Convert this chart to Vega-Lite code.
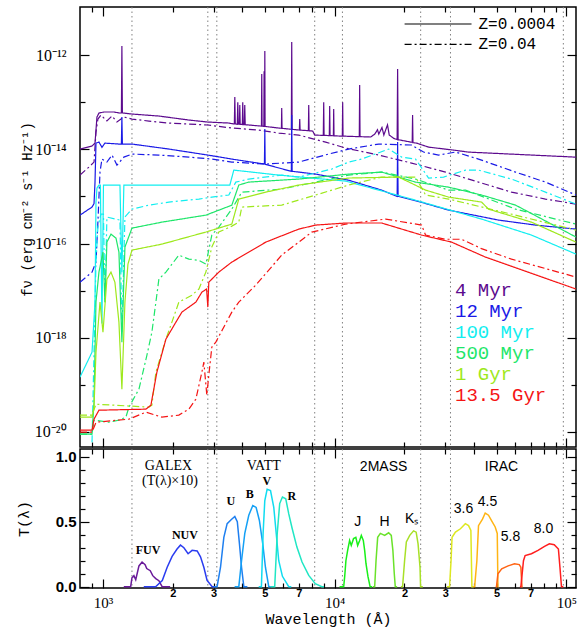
{
  "$schema": "https://vega.github.io/schema/vega-lite/v6.json",
  "padding": {"left": 15, "top": 5, "right": 5, "bottom": 5},
  "spacing": -9,
  "config": {
    "view": {"stroke": "black", "strokeWidth": 1.5},
    "axis": {"domain": false, "grid": false, "tickColor": "black", "tickWidth": 1.2, "labelColor": "black", "titleColor": "black", "labelOverlap": false, "labelFlush": false, "labelBound": false}
  },
  "resolve": {"scale": {"color": "independent", "strokeDash": "independent"}},
  "datasets": {
    "dots": [{"w": 1334}, {"w": 2835}, {"w": 3100}, {"w": 8200}, {"w": 10800}, {"w": 23500}, {"w": 31600}, {"w": 97000}],
    "ages": [
      {"a": "4 Myr", "w": 33050, "f": 1.03e-17},
      {"a": "12 Myr", "w": 33050, "f": 3.67e-18},
      {"a": "100 Myr", "w": 33050, "f": 1.31e-18},
      {"a": "500 Myr", "w": 33050, "f": 4.71e-19},
      {"a": "1 Gyr", "w": 33050, "f": 1.69e-19},
      {"a": "13.5 Gyr", "w": 33050, "f": 6.04e-20}
    ],
    "zleg": [
      {"z": "Z=0.0004", "w1": 20030, "w2": 38950, "wt": 41750, "f": 4.55e-12},
      {"z": "Z=0.04", "w1": 20030, "w2": 38950, "wt": 41750, "f": 1.68e-12}
    ],
    "fn": [
      {"t": "FUV", "w": 1564, "v": 0.285},
      {"t": "NUV", "w": 2257, "v": 0.40},
      {"t": "U", "w": 3563, "v": 0.66},
      {"t": "B", "w": 4302, "v": 0.71},
      {"t": "V", "w": 5092, "v": 0.815},
      {"t": "R", "w": 6526, "v": 0.70}
    ],
    "grp": [
      {"t": "GALEX", "w": 1917, "v": 0.93},
      {"t": "(T(\u03bb)\u00d710)", "w": 1946, "v": 0.815},
      {"t": "VATT", "w": 4943, "v": 0.93}
    ],
    "sans": [
      {"t": "2MASS", "w": 16260, "v": 0.923},
      {"t": "IRAC", "w": 52470, "v": 0.923},
      {"t": "J", "w": 12564, "v": 0.50},
      {"t": "H", "w": 16428, "v": 0.50},
      {"t": "K\u209b", "w": 21471, "v": 0.523},
      {"t": "3.6", "w": 35970, "v": 0.60},
      {"t": "4.5", "w": 45650, "v": 0.654},
      {"t": "5.8", "w": 57370, "v": 0.385},
      {"t": "8.0", "w": 79600, "v": 0.446}
    ],
    "filt": [
      {"b": "FUV", "w": 1230, "t": 0}, {"b": "FUV", "w": 1317, "t": 0}, {"b": "FUV", "w": 1334, "t": 0.069}, {"b": "FUV", "w": 1360, "t": 0.085}, {"b": "FUV", "w": 1385, "t": 0.054}, {"b": "FUV", "w": 1430, "t": 0.16}, {"b": "FUV", "w": 1475, "t": 0.19}, {"b": "FUV", "w": 1520, "t": 0.17}, {"b": "FUV", "w": 1545, "t": 0.14}, {"b": "FUV", "w": 1600, "t": 0.123}, {"b": "FUV", "w": 1640, "t": 0.085}, {"b": "FUV", "w": 1690, "t": 0.062}, {"b": "FUV", "w": 1743, "t": 0.046}, {"b": "FUV", "w": 1790, "t": 0.008}, {"b": "FUV", "w": 1800, "t": 0}, {"b": "FUV", "w": 1950, "t": 0},
      {"b": "NUV", "w": 1500, "t": 0}, {"b": "NUV", "w": 1687, "t": 0}, {"b": "NUV", "w": 1803, "t": 0.048}, {"b": "NUV", "w": 1893, "t": 0.15}, {"b": "NUV", "w": 1988, "t": 0.233}, {"b": "NUV", "w": 2088, "t": 0.29}, {"b": "NUV", "w": 2160, "t": 0.32}, {"b": "NUV", "w": 2235, "t": 0.30}, {"b": "NUV", "w": 2330, "t": 0.254}, {"b": "NUV", "w": 2425, "t": 0.28}, {"b": "NUV", "w": 2550, "t": 0.275}, {"b": "NUV", "w": 2636, "t": 0.23}, {"b": "NUV", "w": 2725, "t": 0.15}, {"b": "NUV", "w": 2814, "t": 0.048}, {"b": "NUV", "w": 2960, "t": 0}, {"b": "NUV", "w": 3050, "t": 0},
      {"b": "U", "w": 3000, "t": 0}, {"b": "U", "w": 3108, "t": 0}, {"b": "U", "w": 3216, "t": 0.15}, {"b": "U", "w": 3324, "t": 0.38}, {"b": "U", "w": 3435, "t": 0.485}, {"b": "U", "w": 3573, "t": 0.515}, {"b": "U", "w": 3707, "t": 0.54}, {"b": "U", "w": 3800, "t": 0.5}, {"b": "U", "w": 3882, "t": 0.33}, {"b": "U", "w": 3963, "t": 0.15}, {"b": "U", "w": 4054, "t": 0}, {"b": "U", "w": 4200, "t": 0},
      {"b": "B", "w": 3700, "t": 0}, {"b": "B", "w": 3857, "t": 0}, {"b": "B", "w": 3963, "t": 0.2}, {"b": "B", "w": 4093, "t": 0.41}, {"b": "B", "w": 4259, "t": 0.55}, {"b": "B", "w": 4432, "t": 0.625}, {"b": "B", "w": 4581, "t": 0.61}, {"b": "B", "w": 4732, "t": 0.51}, {"b": "B", "w": 4894, "t": 0.33}, {"b": "B", "w": 5025, "t": 0.15}, {"b": "B", "w": 5194, "t": 0}, {"b": "B", "w": 5300, "t": 0},
      {"b": "V", "w": 4700, "t": 0}, {"b": "V", "w": 4828, "t": 0}, {"b": "V", "w": 4910, "t": 0.41}, {"b": "V", "w": 4992, "t": 0.66}, {"b": "V", "w": 5110, "t": 0.75}, {"b": "V", "w": 5285, "t": 0.74}, {"b": "V", "w": 5460, "t": 0.61}, {"b": "V", "w": 5600, "t": 0.4}, {"b": "V", "w": 5736, "t": 0.2}, {"b": "V", "w": 5950, "t": 0.08}, {"b": "V", "w": 6336, "t": 0}, {"b": "V", "w": 6500, "t": 0},
      {"b": "R", "w": 5300, "t": 0}, {"b": "R", "w": 5510, "t": 0}, {"b": "R", "w": 5650, "t": 0.41}, {"b": "R", "w": 5790, "t": 0.64}, {"b": "R", "w": 5950, "t": 0.69}, {"b": "R", "w": 6150, "t": 0.677}, {"b": "R", "w": 6336, "t": 0.56}, {"b": "R", "w": 6550, "t": 0.45}, {"b": "R", "w": 6870, "t": 0.305}, {"b": "R", "w": 7230, "t": 0.19}, {"b": "R", "w": 7727, "t": 0.087}, {"b": "R", "w": 8246, "t": 0.023}, {"b": "R", "w": 8800, "t": 0}, {"b": "R", "w": 9000, "t": 0},
      {"b": "J", "w": 10500, "t": 0}, {"b": "J", "w": 10935, "t": 0}, {"b": "J", "w": 11044, "t": 0.077}, {"b": "J", "w": 11180, "t": 0.2}, {"b": "J", "w": 11375, "t": 0.28}, {"b": "J", "w": 11600, "t": 0.356}, {"b": "J", "w": 11790, "t": 0.318}, {"b": "J", "w": 12060, "t": 0.37}, {"b": "J", "w": 12340, "t": 0.38}, {"b": "J", "w": 12564, "t": 0.318}, {"b": "J", "w": 12817, "t": 0.356}, {"b": "J", "w": 13030, "t": 0.395}, {"b": "J", "w": 13290, "t": 0.356}, {"b": "J", "w": 13470, "t": 0.28}, {"b": "J", "w": 13650, "t": 0.177}, {"b": "J", "w": 13930, "t": 0.075}, {"b": "J", "w": 14220, "t": 0}, {"b": "J", "w": 14500, "t": 0},
      {"b": "H", "w": 14600, "t": 0}, {"b": "H", "w": 14880, "t": 0}, {"b": "H", "w": 15080, "t": 0.2}, {"b": "H", "w": 15330, "t": 0.38}, {"b": "H", "w": 15740, "t": 0.41}, {"b": "H", "w": 16430, "t": 0.395}, {"b": "H", "w": 17094, "t": 0.415}, {"b": "H", "w": 17550, "t": 0.395}, {"b": "H", "w": 17830, "t": 0.28}, {"b": "H", "w": 18080, "t": 0.1}, {"b": "H", "w": 18260, "t": 0}, {"b": "H", "w": 18600, "t": 0},
      {"b": "Ks", "w": 19300, "t": 0}, {"b": "Ks", "w": 19630, "t": 0}, {"b": "Ks", "w": 20030, "t": 0.2}, {"b": "Ks", "w": 20380, "t": 0.344}, {"b": "Ks", "w": 21080, "t": 0.395}, {"b": "Ks", "w": 21900, "t": 0.43}, {"b": "Ks", "w": 22470, "t": 0.42}, {"b": "Ks", "w": 22900, "t": 0.33}, {"b": "Ks", "w": 23350, "t": 0.15}, {"b": "Ks", "w": 23480, "t": 0}, {"b": "Ks", "w": 24000, "t": 0},
      {"b": "3.6", "w": 30500, "t": 0}, {"b": "3.6", "w": 31310, "t": 0}, {"b": "3.6", "w": 31780, "t": 0.2}, {"b": "3.6", "w": 32100, "t": 0.38}, {"b": "3.6", "w": 33200, "t": 0.42}, {"b": "3.6", "w": 34900, "t": 0.446}, {"b": "3.6", "w": 36630, "t": 0.485}, {"b": "3.6", "w": 37810, "t": 0.47}, {"b": "3.6", "w": 38700, "t": 0.433}, {"b": "3.6", "w": 39100, "t": 0}, {"b": "3.6", "w": 39600, "t": 0},
      {"b": "4.5", "w": 39600, "t": 0}, {"b": "4.5", "w": 40170, "t": 0}, {"b": "4.5", "w": 41080, "t": 0.2}, {"b": "4.5", "w": 41750, "t": 0.47}, {"b": "4.5", "w": 43440, "t": 0.52}, {"b": "4.5", "w": 44630, "t": 0.567}, {"b": "4.5", "w": 46110, "t": 0.55}, {"b": "4.5", "w": 47650, "t": 0.505}, {"b": "4.5", "w": 49280, "t": 0.46}, {"b": "4.5", "w": 50300, "t": 0.41}, {"b": "4.5", "w": 50640, "t": 0}, {"b": "4.5", "w": 51000, "t": 0},
      {"b": "5.8", "w": 49500, "t": 0}, {"b": "5.8", "w": 49920, "t": 0}, {"b": "5.8", "w": 50640, "t": 0.1}, {"b": "5.8", "w": 52580, "t": 0.138}, {"b": "5.8", "w": 56020, "t": 0.16}, {"b": "5.8", "w": 59700, "t": 0.177}, {"b": "5.8", "w": 62600, "t": 0.17}, {"b": "5.8", "w": 63600, "t": 0.15}, {"b": "5.8", "w": 64300, "t": 0}, {"b": "5.8", "w": 64800, "t": 0},
      {"b": "8.0", "w": 63000, "t": 0}, {"b": "8.0", "w": 63600, "t": 0}, {"b": "8.0", "w": 65270, "t": 0.2}, {"b": "8.0", "w": 66350, "t": 0.24}, {"b": "8.0", "w": 70660, "t": 0.254}, {"b": "8.0", "w": 75400, "t": 0.28}, {"b": "8.0", "w": 80460, "t": 0.31}, {"b": "8.0", "w": 84430, "t": 0.33}, {"b": "8.0", "w": 88600, "t": 0.323}, {"b": "8.0", "w": 92360, "t": 0.29}, {"b": "8.0", "w": 93780, "t": 0.15}, {"b": "8.0", "w": 95230, "t": 0}, {"b": "8.0", "w": 97000, "t": 0}
    ],
    "sed": [
      {"a": "4 Myr", "z": "Z=0.0004", "w": 796, "f": 1.01e-14}, {"a": "4 Myr", "z": "Z=0.0004", "w": 897, "f": 1.17e-14}, {"a": "4 Myr", "z": "Z=0.0004", "w": 924, "f": 1.35e-14}, {"a": "4 Myr", "z": "Z=0.0004", "w": 942, "f": 4.83e-14}, {"a": "4 Myr", "z": "Z=0.0004", "w": 961, "f": 5.87e-14}, {"a": "4 Myr", "z": "Z=0.0004", "w": 1010, "f": 6.17e-14}, {"a": "4 Myr", "z": "Z=0.0004", "w": 1115, "f": 6.17e-14}, {"a": "4 Myr", "z": "Z=0.0004", "w": 1184, "f": 5.87e-14}, {"a": "4 Myr", "z": "Z=0.0004", "w": 1201, "f": 5.9e-14}, {"a": "4 Myr", "z": "Z=0.0004", "w": 1207, "f": 1.55e-12}, {"a": "4 Myr", "z": "Z=0.0004", "w": 1213, "f": 5.9e-14}, {"a": "4 Myr", "z": "Z=0.0004", "w": 1334, "f": 5.59e-14}, {"a": "4 Myr", "z": "Z=0.0004", "w": 1743, "f": 5.07e-14}, {"a": "4 Myr", "z": "Z=0.0004", "w": 2349, "f": 4.17e-14}, {"a": "4 Myr", "z": "Z=0.0004", "w": 2835, "f": 3.78e-14}, {"a": "4 Myr", "z": "Z=0.0004", "w": 3500, "f": 3.6e-14}, {"a": "4 Myr", "z": "Z=0.0004", "w": 3598, "f": 3.5e-14}, {"a": "4 Myr", "z": "Z=0.0004", "w": 3690, "f": 3.45e-14}, {"a": "4 Myr", "z": "Z=0.0004", "w": 3707, "f": 1.28e-13}, {"a": "4 Myr", "z": "Z=0.0004", "w": 3724, "f": 3.45e-14}, {"a": "4 Myr", "z": "Z=0.0004", "w": 3800, "f": 3.4e-14}, {"a": "4 Myr", "z": "Z=0.0004", "w": 3818, "f": 1.0e-13}, {"a": "4 Myr", "z": "Z=0.0004", "w": 3836, "f": 3.4e-14}, {"a": "4 Myr", "z": "Z=0.0004", "w": 3880, "f": 3.4e-14}, {"a": "4 Myr", "z": "Z=0.0004", "w": 3895, "f": 8.67e-14}, {"a": "4 Myr", "z": "Z=0.0004", "w": 3910, "f": 3.38e-14}, {"a": "4 Myr", "z": "Z=0.0004", "w": 3995, "f": 3.35e-14}, {"a": "4 Myr", "z": "Z=0.0004", "w": 4011, "f": 1.0e-13}, {"a": "4 Myr", "z": "Z=0.0004", "w": 4028, "f": 3.35e-14}, {"a": "4 Myr", "z": "Z=0.0004", "w": 4075, "f": 3.33e-14}, {"a": "4 Myr", "z": "Z=0.0004", "w": 4092, "f": 8.67e-14}, {"a": "4 Myr", "z": "Z=0.0004", "w": 4110, "f": 3.32e-14}, {"a": "4 Myr", "z": "Z=0.0004", "w": 4259, "f": 3.27e-14}, {"a": "4 Myr", "z": "Z=0.0004", "w": 4830, "f": 3.1e-14}, {"a": "4 Myr", "z": "Z=0.0004", "w": 4845, "f": 3.95e-13}, {"a": "4 Myr", "z": "Z=0.0004", "w": 4860, "f": 3.1e-14}, {"a": "4 Myr", "z": "Z=0.0004", "w": 4946, "f": 3.07e-14}, {"a": "4 Myr", "z": "Z=0.0004", "w": 4959, "f": 4.5e-13}, {"a": "4 Myr", "z": "Z=0.0004", "w": 4972, "f": 3.06e-14}, {"a": "4 Myr", "z": "Z=0.0004", "w": 4982, "f": 3.05e-14}, {"a": "4 Myr", "z": "Z=0.0004", "w": 4995, "f": 1.22e-12}, {"a": "4 Myr", "z": "Z=0.0004", "w": 5008, "f": 3.05e-14}, {"a": "4 Myr", "z": "Z=0.0004", "w": 5736, "f": 2.82e-14}, {"a": "4 Myr", "z": "Z=0.0004", "w": 5890, "f": 2.78e-14}, {"a": "4 Myr", "z": "Z=0.0004", "w": 5908, "f": 7.5e-14}, {"a": "4 Myr", "z": "Z=0.0004", "w": 5926, "f": 2.78e-14}, {"a": "4 Myr", "z": "Z=0.0004", "w": 6500, "f": 2.65e-14}, {"a": "4 Myr", "z": "Z=0.0004", "w": 6526, "f": 1.89e-12}, {"a": "4 Myr", "z": "Z=0.0004", "w": 6552, "f": 2.65e-14}, {"a": "4 Myr", "z": "Z=0.0004", "w": 6996, "f": 2.56e-14}, {"a": "4 Myr", "z": "Z=0.0004", "w": 7040, "f": 2.55e-14}, {"a": "4 Myr", "z": "Z=0.0004", "w": 7066, "f": 4.4e-14}, {"a": "4 Myr", "z": "Z=0.0004", "w": 7092, "f": 2.55e-14}, {"a": "4 Myr", "z": "Z=0.0004", "w": 7700, "f": 2.48e-14}, {"a": "4 Myr", "z": "Z=0.0004", "w": 7727, "f": 8.67e-14}, {"a": "4 Myr", "z": "Z=0.0004", "w": 7754, "f": 2.47e-14}, {"a": "4 Myr", "z": "Z=0.0004", "w": 8040, "f": 2.43e-14}, {"a": "4 Myr", "z": "Z=0.0004", "w": 8202, "f": 2.0e-14}, {"a": "4 Myr", "z": "Z=0.0004", "w": 8930, "f": 1.97e-14}, {"a": "4 Myr", "z": "Z=0.0004", "w": 8967, "f": 1.0e-13}, {"a": "4 Myr", "z": "Z=0.0004", "w": 9000, "f": 1.97e-14}, {"a": "4 Myr", "z": "Z=0.0004", "w": 9480, "f": 1.95e-14}, {"a": "4 Myr", "z": "Z=0.0004", "w": 9515, "f": 8.26e-14}, {"a": "4 Myr", "z": "Z=0.0004", "w": 9550, "f": 1.95e-14}, {"a": "4 Myr", "z": "Z=0.0004", "w": 9870, "f": 1.93e-14}, {"a": "4 Myr", "z": "Z=0.0004", "w": 9902, "f": 7.14e-14}, {"a": "4 Myr", "z": "Z=0.0004", "w": 9935, "f": 1.93e-14}, {"a": "4 Myr", "z": "Z=0.0004", "w": 10405, "f": 1.91e-14}, {"a": "4 Myr", "z": "Z=0.0004", "w": 10790, "f": 1.9e-14}, {"a": "4 Myr", "z": "Z=0.0004", "w": 10827, "f": 1.0e-13}, {"a": "4 Myr", "z": "Z=0.0004", "w": 10865, "f": 1.9e-14}, {"a": "4 Myr", "z": "Z=0.0004", "w": 12770, "f": 1.85e-14}, {"a": "4 Myr", "z": "Z=0.0004", "w": 12817, "f": 2.31e-13}, {"a": "4 Myr", "z": "Z=0.0004", "w": 12865, "f": 1.85e-14}, {"a": "4 Myr", "z": "Z=0.0004", "w": 14300, "f": 1.82e-14}, {"a": "4 Myr", "z": "Z=0.0004", "w": 14900, "f": 2.1e-14}, {"a": "4 Myr", "z": "Z=0.0004", "w": 15300, "f": 2.6e-14}, {"a": "4 Myr", "z": "Z=0.0004", "w": 15500, "f": 2.1e-14}, {"a": "4 Myr", "z": "Z=0.0004", "w": 16000, "f": 2.9e-14}, {"a": "4 Myr", "z": "Z=0.0004", "w": 16300, "f": 2.0e-14}, {"a": "4 Myr", "z": "Z=0.0004", "w": 16900, "f": 3.3e-14}, {"a": "4 Myr", "z": "Z=0.0004", "w": 17200, "f": 2.0e-14}, {"a": "4 Myr", "z": "Z=0.0004", "w": 18000, "f": 1.7e-14}, {"a": "4 Myr", "z": "Z=0.0004", "w": 18600, "f": 1.6e-14}, {"a": "4 Myr", "z": "Z=0.0004", "w": 18690, "f": 5.05e-13}, {"a": "4 Myr", "z": "Z=0.0004", "w": 18780, "f": 1.6e-14}, {"a": "4 Myr", "z": "Z=0.0004", "w": 21600, "f": 1.4e-14}, {"a": "4 Myr", "z": "Z=0.0004", "w": 21686, "f": 5.3e-14}, {"a": "4 Myr", "z": "Z=0.0004", "w": 21770, "f": 1.38e-14}, {"a": "4 Myr", "z": "Z=0.0004", "w": 22563, "f": 1.35e-14}, {"a": "4 Myr", "z": "Z=0.0004", "w": 25420, "f": 1.11e-14}, {"a": "4 Myr", "z": "Z=0.0004", "w": 32570, "f": 9.6e-15}, {"a": "4 Myr", "z": "Z=0.0004", "w": 37810, "f": 8.7e-15}, {"a": "4 Myr", "z": "Z=0.0004", "w": 110000, "f": 6.8e-15},

      {"a": "4 Myr", "z": "Z=0.04", "w": 796, "f": 2.83e-15}, {"a": "4 Myr", "z": "Z=0.04", "w": 870, "f": 4.19e-15}, {"a": "4 Myr", "z": "Z=0.04", "w": 915, "f": 5.35e-15}, {"a": "4 Myr", "z": "Z=0.04", "w": 933, "f": 2.32e-14}, {"a": "4 Myr", "z": "Z=0.04", "w": 951, "f": 4.38e-14}, {"a": "4 Myr", "z": "Z=0.04", "w": 980, "f": 5.32e-14}, {"a": "4 Myr", "z": "Z=0.04", "w": 1040, "f": 3.98e-14}, {"a": "4 Myr", "z": "Z=0.04", "w": 1094, "f": 5.07e-14}, {"a": "4 Myr", "z": "Z=0.04", "w": 1149, "f": 3.78e-14}, {"a": "4 Myr", "z": "Z=0.04", "w": 1231, "f": 4.83e-14}, {"a": "4 Myr", "z": "Z=0.04", "w": 1334, "f": 4.38e-14}, {"a": "4 Myr", "z": "Z=0.04", "w": 1579, "f": 3.97e-14}, {"a": "4 Myr", "z": "Z=0.04", "w": 1925, "f": 3.6e-14}, {"a": "4 Myr", "z": "Z=0.04", "w": 2835, "f": 3.27e-14}, {"a": "4 Myr", "z": "Z=0.04", "w": 3598, "f": 2.82e-14}, {"a": "4 Myr", "z": "Z=0.04", "w": 4703, "f": 2.56e-14}, {"a": "4 Myr", "z": "Z=0.04", "w": 5736, "f": 2.21e-14}, {"a": "4 Myr", "z": "Z=0.04", "w": 6996, "f": 2.0e-14}, {"a": "4 Myr", "z": "Z=0.04", "w": 9140, "f": 1.42e-14}, {"a": "4 Myr", "z": "Z=0.04", "w": 11153, "f": 1.06e-14}, {"a": "4 Myr", "z": "Z=0.04", "w": 15480, "f": 7.53e-15}, {"a": "4 Myr", "z": "Z=0.04", "w": 21471, "f": 5.09e-15}, {"a": "4 Myr", "z": "Z=0.04", "w": 30090, "f": 3.28e-15}, {"a": "4 Myr", "z": "Z=0.04", "w": 41750, "f": 2.01e-15}, {"a": "4 Myr", "z": "Z=0.04", "w": 57950, "f": 1.23e-15}, {"a": "4 Myr", "z": "Z=0.04", "w": 81210, "f": 8.77e-16}, {"a": "4 Myr", "z": "Z=0.04", "w": 110000, "f": 6.87e-16},

      {"a": "12 Myr", "z": "Z=0.0004", "w": 796, "f": 4.0e-16}, {"a": "12 Myr", "z": "Z=0.0004", "w": 897, "f": 5.93e-16}, {"a": "12 Myr", "z": "Z=0.0004", "w": 915, "f": 7.0e-16}, {"a": "12 Myr", "z": "Z=0.0004", "w": 924, "f": 2.0e-15}, {"a": "12 Myr", "z": "Z=0.0004", "w": 933, "f": 1.35e-14}, {"a": "12 Myr", "z": "Z=0.0004", "w": 961, "f": 1.42e-14}, {"a": "12 Myr", "z": "Z=0.0004", "w": 990, "f": 1.1e-14}, {"a": "12 Myr", "z": "Z=0.0004", "w": 1020, "f": 1.35e-14}, {"a": "12 Myr", "z": "Z=0.0004", "w": 1172, "f": 1.29e-14}, {"a": "12 Myr", "z": "Z=0.0004", "w": 1201, "f": 1.29e-14}, {"a": "12 Myr", "z": "Z=0.0004", "w": 1207, "f": 4.83e-14}, {"a": "12 Myr", "z": "Z=0.0004", "w": 1213, "f": 1.29e-14}, {"a": "12 Myr", "z": "Z=0.0004", "w": 1334, "f": 1.29e-14}, {"a": "12 Myr", "z": "Z=0.0004", "w": 1925, "f": 1.01e-14}, {"a": "12 Myr", "z": "Z=0.0004", "w": 2835, "f": 7.53e-15}, {"a": "12 Myr", "z": "Z=0.0004", "w": 3598, "f": 6.19e-15}, {"a": "12 Myr", "z": "Z=0.0004", "w": 4975, "f": 4.85e-15}, {"a": "12 Myr", "z": "Z=0.0004", "w": 4995, "f": 2.69e-14}, {"a": "12 Myr", "z": "Z=0.0004", "w": 5012, "f": 4.8e-15}, {"a": "12 Myr", "z": "Z=0.0004", "w": 6500, "f": 3.4e-15}, {"a": "12 Myr", "z": "Z=0.0004", "w": 6526, "f": 5.32e-14}, {"a": "12 Myr", "z": "Z=0.0004", "w": 6552, "f": 3.4e-15}, {"a": "12 Myr", "z": "Z=0.0004", "w": 6996, "f": 3.28e-15}, {"a": "12 Myr", "z": "Z=0.0004", "w": 8283, "f": 2.97e-15}, {"a": "12 Myr", "z": "Z=0.0004", "w": 11489, "f": 2.2e-15}, {"a": "12 Myr", "z": "Z=0.0004", "w": 15948, "f": 1.36e-15}, {"a": "12 Myr", "z": "Z=0.0004", "w": 18600, "f": 1.0e-15}, {"a": "12 Myr", "z": "Z=0.0004", "w": 18690, "f": 1.42e-14}, {"a": "12 Myr", "z": "Z=0.0004", "w": 18780, "f": 1.0e-15}, {"a": "12 Myr", "z": "Z=0.0004", "w": 23480, "f": 7.57e-16}, {"a": "12 Myr", "z": "Z=0.0004", "w": 31000, "f": 5.12e-16}, {"a": "12 Myr", "z": "Z=0.0004", "w": 50930, "f": 3.14e-16}, {"a": "12 Myr", "z": "Z=0.0004", "w": 73520, "f": 2.46e-16}, {"a": "12 Myr", "z": "Z=0.0004", "w": 110000, "f": 2.02e-16},

      {"a": "12 Myr", "z": "Z=0.04", "w": 796, "f": 1.51e-17}, {"a": "12 Myr", "z": "Z=0.04", "w": 897, "f": 2.47e-17}, {"a": "12 Myr", "z": "Z=0.04", "w": 933, "f": 4.03e-17}, {"a": "12 Myr", "z": "Z=0.04", "w": 951, "f": 2.84e-16}, {"a": "12 Myr", "z": "Z=0.04", "w": 971, "f": 3.28e-15}, {"a": "12 Myr", "z": "Z=0.04", "w": 990, "f": 6.19e-15}, {"a": "12 Myr", "z": "Z=0.04", "w": 1040, "f": 5.35e-15}, {"a": "12 Myr", "z": "Z=0.04", "w": 1094, "f": 7.53e-15}, {"a": "12 Myr", "z": "Z=0.04", "w": 1149, "f": 4.62e-15}, {"a": "12 Myr", "z": "Z=0.04", "w": 1231, "f": 6.82e-15}, {"a": "12 Myr", "z": "Z=0.04", "w": 1334, "f": 7.91e-15}, {"a": "12 Myr", "z": "Z=0.04", "w": 1743, "f": 7.53e-15}, {"a": "12 Myr", "z": "Z=0.04", "w": 2349, "f": 6.82e-15}, {"a": "12 Myr", "z": "Z=0.04", "w": 2950, "f": 6.19e-15}, {"a": "12 Myr", "z": "Z=0.04", "w": 3598, "f": 5.35e-15}, {"a": "12 Myr", "z": "Z=0.04", "w": 5041, "f": 4.85e-15}, {"a": "12 Myr", "z": "Z=0.04", "w": 6996, "f": 5.35e-15}, {"a": "12 Myr", "z": "Z=0.04", "w": 9422, "f": 7.91e-15}, {"a": "12 Myr", "z": "Z=0.04", "w": 11489, "f": 1.01e-14}, {"a": "12 Myr", "z": "Z=0.04", "w": 15480, "f": 1.29e-14}, {"a": "12 Myr", "z": "Z=0.04", "w": 21471, "f": 1.23e-14}, {"a": "12 Myr", "z": "Z=0.04", "w": 24190, "f": 8.73e-15}, {"a": "12 Myr", "z": "Z=0.04", "w": 28070, "f": 7.53e-15}, {"a": "12 Myr", "z": "Z=0.04", "w": 33230, "f": 8.73e-15}, {"a": "12 Myr", "z": "Z=0.04", "w": 41750, "f": 6.19e-15}, {"a": "12 Myr", "z": "Z=0.04", "w": 60290, "f": 3.28e-15}, {"a": "12 Myr", "z": "Z=0.04", "w": 81210, "f": 2.01e-15}, {"a": "12 Myr", "z": "Z=0.04", "w": 110000, "f": 1.07e-15},

      {"a": "100 Myr", "z": "Z=0.0004", "w": 796, "f": 1.46e-19}, {"a": "100 Myr", "z": "Z=0.0004", "w": 897, "f": 4.94e-19}, {"a": "100 Myr", "z": "Z=0.0004", "w": 924, "f": 5.7e-18}, {"a": "100 Myr", "z": "Z=0.0004", "w": 933, "f": 7.57e-16}, {"a": "100 Myr", "z": "Z=0.0004", "w": 942, "f": 1.5e-15}, {"a": "100 Myr", "z": "Z=0.0004", "w": 961, "f": 1.74e-15}, {"a": "100 Myr", "z": "Z=0.0004", "w": 975, "f": 1.74e-15}, {"a": "100 Myr", "z": "Z=0.0004", "w": 990, "f": 2.0e-18}, {"a": "100 Myr", "z": "Z=0.0004", "w": 1005, "f": 1.74e-15}, {"a": "100 Myr", "z": "Z=0.0004", "w": 1184, "f": 1.74e-15}, {"a": "100 Myr", "z": "Z=0.0004", "w": 1207, "f": 2.47e-17}, {"a": "100 Myr", "z": "Z=0.0004", "w": 1231, "f": 1.74e-15}, {"a": "100 Myr", "z": "Z=0.0004", "w": 2835, "f": 1.74e-15}, {"a": "100 Myr", "z": "Z=0.0004", "w": 3528, "f": 1.74e-15}, {"a": "100 Myr", "z": "Z=0.0004", "w": 3670, "f": 3.61e-15}, {"a": "100 Myr", "z": "Z=0.0004", "w": 5736, "f": 2.83e-15}, {"a": "100 Myr", "z": "Z=0.0004", "w": 11153, "f": 2.11e-15}, {"a": "100 Myr", "z": "Z=0.0004", "w": 21471, "f": 8.77e-16}, {"a": "100 Myr", "z": "Z=0.0004", "w": 43020, "f": 3.3e-16}, {"a": "100 Myr", "z": "Z=0.0004", "w": 70660, "f": 1.51e-16}, {"a": "100 Myr", "z": "Z=0.0004", "w": 110000, "f": 5.96e-17},

      {"a": "100 Myr", "z": "Z=0.04", "w": 897, "f": 6.07e-21}, {"a": "100 Myr", "z": "Z=0.04", "w": 915, "f": 4.94e-19}, {"a": "100 Myr", "z": "Z=0.04", "w": 933, "f": 4.03e-17}, {"a": "100 Myr", "z": "Z=0.04", "w": 951, "f": 2.23e-16}, {"a": "100 Myr", "z": "Z=0.04", "w": 980, "f": 4.2e-16}, {"a": "100 Myr", "z": "Z=0.04", "w": 1005, "f": 4.2e-16}, {"a": "100 Myr", "z": "Z=0.04", "w": 1020, "f": 5.7e-18}, {"a": "100 Myr", "z": "Z=0.04", "w": 1040, "f": 3.64e-16}, {"a": "100 Myr", "z": "Z=0.04", "w": 1184, "f": 3.14e-16}, {"a": "100 Myr", "z": "Z=0.04", "w": 1207, "f": 1.31e-18}, {"a": "100 Myr", "z": "Z=0.04", "w": 1244, "f": 3.64e-16}, {"a": "100 Myr", "z": "Z=0.04", "w": 1334, "f": 5.37e-16}, {"a": "100 Myr", "z": "Z=0.04", "w": 1579, "f": 6.53e-16}, {"a": "100 Myr", "z": "Z=0.04", "w": 1925, "f": 7.57e-16}, {"a": "100 Myr", "z": "Z=0.04", "w": 2594, "f": 8.77e-16}, {"a": "100 Myr", "z": "Z=0.04", "w": 2950, "f": 9.66e-16}, {"a": "100 Myr", "z": "Z=0.04", "w": 3493, "f": 1.07e-15}, {"a": "100 Myr", "z": "Z=0.04", "w": 3744, "f": 2.01e-15}, {"a": "100 Myr", "z": "Z=0.04", "w": 4259, "f": 2.33e-15}, {"a": "100 Myr", "z": "Z=0.04", "w": 5908, "f": 2.83e-15}, {"a": "100 Myr", "z": "Z=0.04", "w": 6996, "f": 2.57e-15}, {"a": "100 Myr", "z": "Z=0.04", "w": 9707, "f": 3.8e-15}, {"a": "100 Myr", "z": "Z=0.04", "w": 11489, "f": 5.35e-15}, {"a": "100 Myr", "z": "Z=0.04", "w": 13073, "f": 6.19e-15}, {"a": "100 Myr", "z": "Z=0.04", "w": 17094, "f": 1.01e-14}, {"a": "100 Myr", "z": "Z=0.04", "w": 19443, "f": 6.82e-15}, {"a": "100 Myr", "z": "Z=0.04", "w": 22340, "f": 6.19e-15}, {"a": "100 Myr", "z": "Z=0.04", "w": 25420, "f": 2.45e-15}, {"a": "100 Myr", "z": "Z=0.04", "w": 29500, "f": 2.57e-15}, {"a": "100 Myr", "z": "Z=0.04", "w": 36700, "f": 3.61e-15}, {"a": "100 Myr", "z": "Z=0.04", "w": 41750, "f": 3.61e-15}, {"a": "100 Myr", "z": "Z=0.04", "w": 57950, "f": 2.33e-15}, {"a": "100 Myr", "z": "Z=0.04", "w": 81210, "f": 1.23e-15}, {"a": "100 Myr", "z": "Z=0.04", "w": 110000, "f": 6.87e-16},

      {"a": "500 Myr", "z": "Z=0.0004", "w": 796, "f": 8.98e-21}, {"a": "500 Myr", "z": "Z=0.0004", "w": 897, "f": 8.98e-21}, {"a": "500 Myr", "z": "Z=0.0004", "w": 915, "f": 4.3e-20}, {"a": "500 Myr", "z": "Z=0.0004", "w": 933, "f": 5.7e-18}, {"a": "500 Myr", "z": "Z=0.0004", "w": 961, "f": 2.47e-17}, {"a": "500 Myr", "z": "Z=0.0004", "w": 1000, "f": 6.56e-17}, {"a": "500 Myr", "z": "Z=0.0004", "w": 1020, "f": 5.7e-18}, {"a": "500 Myr", "z": "Z=0.0004", "w": 1040, "f": 1.07e-16}, {"a": "500 Myr", "z": "Z=0.0004", "w": 1083, "f": 1.58e-16}, {"a": "500 Myr", "z": "Z=0.0004", "w": 1138, "f": 1.3e-16}, {"a": "500 Myr", "z": "Z=0.0004", "w": 1172, "f": 6.56e-17}, {"a": "500 Myr", "z": "Z=0.0004", "w": 1207, "f": 8.07e-19}, {"a": "500 Myr", "z": "Z=0.0004", "w": 1244, "f": 8.4e-17}, {"a": "500 Myr", "z": "Z=0.0004", "w": 1334, "f": 2.12e-16}, {"a": "500 Myr", "z": "Z=0.0004", "w": 1796, "f": 2.84e-16}, {"a": "500 Myr", "z": "Z=0.0004", "w": 2780, "f": 4.0e-16}, {"a": "500 Myr", "z": "Z=0.0004", "w": 3598, "f": 6.5e-16}, {"a": "500 Myr", "z": "Z=0.0004", "w": 3857, "f": 1.74e-15}, {"a": "500 Myr", "z": "Z=0.0004", "w": 4259, "f": 2.01e-15}, {"a": "500 Myr", "z": "Z=0.0004", "w": 6996, "f": 2.33e-15}, {"a": "500 Myr", "z": "Z=0.0004", "w": 11489, "f": 2.97e-15}, {"a": "500 Myr", "z": "Z=0.0004", "w": 15948, "f": 3.28e-15}, {"a": "500 Myr", "z": "Z=0.0004", "w": 22340, "f": 2.01e-15}, {"a": "500 Myr", "z": "Z=0.0004", "w": 31000, "f": 1.57e-15}, {"a": "500 Myr", "z": "Z=0.0004", "w": 43020, "f": 1.07e-15}, {"a": "500 Myr", "z": "Z=0.0004", "w": 60290, "f": 6.53e-16}, {"a": "500 Myr", "z": "Z=0.0004", "w": 110000, "f": 1.37e-16},

      {"a": "500 Myr", "z": "Z=0.04", "w": 796, "f": 8.98e-21}, {"a": "500 Myr", "z": "Z=0.04", "w": 897, "f": 8.98e-21}, {"a": "500 Myr", "z": "Z=0.04", "w": 915, "f": 1.78e-20}, {"a": "500 Myr", "z": "Z=0.04", "w": 1061, "f": 1.61e-20}, {"a": "500 Myr", "z": "Z=0.04", "w": 1172, "f": 1.78e-20}, {"a": "500 Myr", "z": "Z=0.04", "w": 1256, "f": 2.06e-20}, {"a": "500 Myr", "z": "Z=0.04", "w": 1294, "f": 3.37e-20}, {"a": "500 Myr", "z": "Z=0.04", "w": 1430, "f": 8.11e-20}, {"a": "500 Myr", "z": "Z=0.04", "w": 1548, "f": 4.27e-19}, {"a": "500 Myr", "z": "Z=0.04", "w": 1626, "f": 1.31e-18}, {"a": "500 Myr", "z": "Z=0.04", "w": 1692, "f": 5.7e-18}, {"a": "500 Myr", "z": "Z=0.04", "w": 1743, "f": 1.75e-17}, {"a": "500 Myr", "z": "Z=0.04", "w": 1869, "f": 2.47e-17}, {"a": "500 Myr", "z": "Z=0.04", "w": 2126, "f": 5.67e-17}, {"a": "500 Myr", "z": "Z=0.04", "w": 2349, "f": 4.66e-17}, {"a": "500 Myr", "z": "Z=0.04", "w": 2594, "f": 4.4e-17}, {"a": "500 Myr", "z": "Z=0.04", "w": 2780, "f": 3.65e-17}, {"a": "500 Myr", "z": "Z=0.04", "w": 2950, "f": 1.51e-16}, {"a": "500 Myr", "z": "Z=0.04", "w": 3162, "f": 2.23e-16}, {"a": "500 Myr", "z": "Z=0.04", "w": 3598, "f": 5.37e-16}, {"a": "500 Myr", "z": "Z=0.04", "w": 3973, "f": 1.23e-15}, {"a": "500 Myr", "z": "Z=0.04", "w": 5908, "f": 1.43e-15}, {"a": "500 Myr", "z": "Z=0.04", "w": 8283, "f": 2.01e-15}, {"a": "500 Myr", "z": "Z=0.04", "w": 11489, "f": 2.83e-15}, {"a": "500 Myr", "z": "Z=0.04", "w": 15948, "f": 3.28e-15}, {"a": "500 Myr", "z": "Z=0.04", "w": 22340, "f": 2.33e-15}, {"a": "500 Myr", "z": "Z=0.04", "w": 31000, "f": 1.36e-15}, {"a": "500 Myr", "z": "Z=0.04", "w": 36700, "f": 1.36e-15}, {"a": "500 Myr", "z": "Z=0.04", "w": 60290, "f": 5.37e-16}, {"a": "500 Myr", "z": "Z=0.04", "w": 110000, "f": 2.58e-16},

      {"a": "1 Gyr", "z": "Z=0.0004", "w": 796, "f": 2.06e-20}, {"a": "1 Gyr", "z": "Z=0.0004", "w": 897, "f": 2.06e-20}, {"a": "1 Gyr", "z": "Z=0.0004", "w": 915, "f": 3.37e-20}, {"a": "1 Gyr", "z": "Z=0.0004", "w": 933, "f": 4.94e-19}, {"a": "1 Gyr", "z": "Z=0.0004", "w": 971, "f": 5.7e-18}, {"a": "1 Gyr", "z": "Z=0.0004", "w": 1000, "f": 1.31e-18}, {"a": "1 Gyr", "z": "Z=0.0004", "w": 1040, "f": 1.75e-17}, {"a": "1 Gyr", "z": "Z=0.0004", "w": 1083, "f": 2.47e-17}, {"a": "1 Gyr", "z": "Z=0.0004", "w": 1126, "f": 1.51e-17}, {"a": "1 Gyr", "z": "Z=0.0004", "w": 1172, "f": 2.14e-18}, {"a": "1 Gyr", "z": "Z=0.0004", "w": 1207, "f": 8.11e-20}, {"a": "1 Gyr", "z": "Z=0.0004", "w": 1244, "f": 5.7e-18}, {"a": "1 Gyr", "z": "Z=0.0004", "w": 1282, "f": 3.65e-17}, {"a": "1 Gyr", "z": "Z=0.0004", "w": 1334, "f": 7.24e-17}, {"a": "1 Gyr", "z": "Z=0.0004", "w": 1796, "f": 9.7e-17}, {"a": "1 Gyr", "z": "Z=0.0004", "w": 2780, "f": 1.75e-16}, {"a": "1 Gyr", "z": "Z=0.0004", "w": 3598, "f": 2.58e-16}, {"a": "1 Gyr", "z": "Z=0.0004", "w": 3857, "f": 8.77e-16}, {"a": "1 Gyr", "z": "Z=0.0004", "w": 5041, "f": 1.23e-15}, {"a": "1 Gyr", "z": "Z=0.0004", "w": 6996, "f": 1.74e-15}, {"a": "1 Gyr", "z": "Z=0.0004", "w": 11489, "f": 2.45e-15}, {"a": "1 Gyr", "z": "Z=0.0004", "w": 18874, "f": 2.57e-15}, {"a": "1 Gyr", "z": "Z=0.0004", "w": 24670, "f": 1.36e-15}, {"a": "1 Gyr", "z": "Z=0.0004", "w": 31000, "f": 9.66e-16}, {"a": "1 Gyr", "z": "Z=0.0004", "w": 43020, "f": 7.57e-16}, {"a": "1 Gyr", "z": "Z=0.0004", "w": 46110, "f": 5.37e-16}, {"a": "1 Gyr", "z": "Z=0.0004", "w": 70660, "f": 2.84e-16}, {"a": "1 Gyr", "z": "Z=0.0004", "w": 110000, "f": 1.07e-16},

      {"a": "1 Gyr", "z": "Z=0.04", "w": 796, "f": 2.28e-20}, {"a": "1 Gyr", "z": "Z=0.04", "w": 897, "f": 2.28e-20}, {"a": "1 Gyr", "z": "Z=0.04", "w": 933, "f": 3.89e-20}, {"a": "1 Gyr", "z": "Z=0.04", "w": 1579, "f": 3.37e-20}, {"a": "1 Gyr", "z": "Z=0.04", "w": 1626, "f": 3.7e-20}, {"a": "1 Gyr", "z": "Z=0.04", "w": 1692, "f": 1.86e-19}, {"a": "1 Gyr", "z": "Z=0.04", "w": 1869, "f": 9.33e-19}, {"a": "1 Gyr", "z": "Z=0.04", "w": 1984, "f": 2.14e-18}, {"a": "1 Gyr", "z": "Z=0.04", "w": 2126, "f": 5.7e-18}, {"a": "1 Gyr", "z": "Z=0.04", "w": 2419, "f": 8.0e-18}, {"a": "1 Gyr", "z": "Z=0.04", "w": 2594, "f": 1.08e-17}, {"a": "1 Gyr", "z": "Z=0.04", "w": 2780, "f": 2.47e-17}, {"a": "1 Gyr", "z": "Z=0.04", "w": 2950, "f": 8.4e-17}, {"a": "1 Gyr", "z": "Z=0.04", "w": 3162, "f": 1.75e-16}, {"a": "1 Gyr", "z": "Z=0.04", "w": 3598, "f": 2.34e-16}, {"a": "1 Gyr", "z": "Z=0.04", "w": 3857, "f": 2.84e-16}, {"a": "1 Gyr", "z": "Z=0.04", "w": 3973, "f": 5.93e-16}, {"a": "1 Gyr", "z": "Z=0.04", "w": 5908, "f": 6.53e-16}, {"a": "1 Gyr", "z": "Z=0.04", "w": 8283, "f": 1.07e-15}, {"a": "1 Gyr", "z": "Z=0.04", "w": 11489, "f": 1.74e-15}, {"a": "1 Gyr", "z": "Z=0.04", "w": 15948, "f": 2.57e-15}, {"a": "1 Gyr", "z": "Z=0.04", "w": 22340, "f": 2.57e-15}, {"a": "1 Gyr", "z": "Z=0.04", "w": 24670, "f": 1.07e-15}, {"a": "1 Gyr", "z": "Z=0.04", "w": 31000, "f": 8.77e-16}, {"a": "1 Gyr", "z": "Z=0.04", "w": 60290, "f": 4.0e-16}, {"a": "1 Gyr", "z": "Z=0.04", "w": 110000, "f": 1.93e-16},

      {"a": "13.5 Gyr", "z": "Z=0.0004", "w": 796, "f": 1.09e-20}, {"a": "13.5 Gyr", "z": "Z=0.0004", "w": 897, "f": 1.09e-20}, {"a": "13.5 Gyr", "z": "Z=0.0004", "w": 915, "f": 1.87e-20}, {"a": "13.5 Gyr", "z": "Z=0.0004", "w": 961, "f": 2.9e-20}, {"a": "13.5 Gyr", "z": "Z=0.0004", "w": 1532, "f": 3.05e-20}, {"a": "13.5 Gyr", "z": "Z=0.0004", "w": 1610, "f": 3.7e-20}, {"a": "13.5 Gyr", "z": "Z=0.0004", "w": 1709, "f": 1.86e-19}, {"a": "13.5 Gyr", "z": "Z=0.0004", "w": 1869, "f": 9.33e-19}, {"a": "13.5 Gyr", "z": "Z=0.0004", "w": 2064, "f": 2.14e-18}, {"a": "13.5 Gyr", "z": "Z=0.0004", "w": 2191, "f": 3.5e-18}, {"a": "13.5 Gyr", "z": "Z=0.0004", "w": 2517, "f": 5.7e-18}, {"a": "13.5 Gyr", "z": "Z=0.0004", "w": 2672, "f": 9.29e-18}, {"a": "13.5 Gyr", "z": "Z=0.0004", "w": 2800, "f": 1.08e-17}, {"a": "13.5 Gyr", "z": "Z=0.0004", "w": 2835, "f": 4.47e-18}, {"a": "13.5 Gyr", "z": "Z=0.0004", "w": 2863, "f": 1.51e-17}, {"a": "13.5 Gyr", "z": "Z=0.0004", "w": 3162, "f": 2.47e-17}, {"a": "13.5 Gyr", "z": "Z=0.0004", "w": 3598, "f": 4.03e-17}, {"a": "13.5 Gyr", "z": "Z=0.0004", "w": 5041, "f": 1.07e-16}, {"a": "13.5 Gyr", "z": "Z=0.0004", "w": 6996, "f": 2.02e-16}, {"a": "13.5 Gyr", "z": "Z=0.0004", "w": 8283, "f": 2.46e-16}, {"a": "13.5 Gyr", "z": "Z=0.0004", "w": 11153, "f": 2.72e-16}, {"a": "13.5 Gyr", "z": "Z=0.0004", "w": 15948, "f": 2.72e-16}, {"a": "13.5 Gyr", "z": "Z=0.0004", "w": 23714, "f": 1.51e-16}, {"a": "13.5 Gyr", "z": "Z=0.0004", "w": 31940, "f": 1.07e-16}, {"a": "13.5 Gyr", "z": "Z=0.0004", "w": 44760, "f": 5.14e-17}, {"a": "13.5 Gyr", "z": "Z=0.0004", "w": 110000, "f": 1.08e-17},

      {"a": "13.5 Gyr", "z": "Z=0.04", "w": 796, "f": 9.9e-21}, {"a": "13.5 Gyr", "z": "Z=0.04", "w": 897, "f": 9.9e-21}, {"a": "13.5 Gyr", "z": "Z=0.04", "w": 933, "f": 1.61e-20}, {"a": "13.5 Gyr", "z": "Z=0.04", "w": 1294, "f": 1.87e-20}, {"a": "13.5 Gyr", "z": "Z=0.04", "w": 1532, "f": 2.63e-20}, {"a": "13.5 Gyr", "z": "Z=0.04", "w": 1796, "f": 2.06e-20}, {"a": "13.5 Gyr", "z": "Z=0.04", "w": 2126, "f": 2.28e-20}, {"a": "13.5 Gyr", "z": "Z=0.04", "w": 2349, "f": 3.05e-20}, {"a": "13.5 Gyr", "z": "Z=0.04", "w": 2517, "f": 4.97e-20}, {"a": "13.5 Gyr", "z": "Z=0.04", "w": 2672, "f": 1.86e-19}, {"a": "13.5 Gyr", "z": "Z=0.04", "w": 2725, "f": 3.03e-19}, {"a": "13.5 Gyr", "z": "Z=0.04", "w": 2807, "f": 6.04e-20}, {"a": "13.5 Gyr", "z": "Z=0.04", "w": 2863, "f": 1.61e-19}, {"a": "13.5 Gyr", "z": "Z=0.04", "w": 2950, "f": 6.3e-19}, {"a": "13.5 Gyr", "z": "Z=0.04", "w": 3069, "f": 8.1e-19}, {"a": "13.5 Gyr", "z": "Z=0.04", "w": 3598, "f": 3.5e-18}, {"a": "13.5 Gyr", "z": "Z=0.04", "w": 3857, "f": 5.7e-18}, {"a": "13.5 Gyr", "z": "Z=0.04", "w": 4565, "f": 1.31e-17}, {"a": "13.5 Gyr", "z": "Z=0.04", "w": 5908, "f": 5.67e-17}, {"a": "13.5 Gyr", "z": "Z=0.04", "w": 6996, "f": 1.07e-16}, {"a": "13.5 Gyr", "z": "Z=0.04", "w": 7962, "f": 1.74e-16}, {"a": "13.5 Gyr", "z": "Z=0.04", "w": 11153, "f": 2.58e-16}, {"a": "13.5 Gyr", "z": "Z=0.04", "w": 16589, "f": 3.3e-16}, {"a": "13.5 Gyr", "z": "Z=0.04", "w": 23714, "f": 2.46e-16}, {"a": "13.5 Gyr", "z": "Z=0.04", "w": 24670, "f": 1.51e-16}, {"a": "13.5 Gyr", "z": "Z=0.04", "w": 30090, "f": 1.23e-16}, {"a": "13.5 Gyr", "z": "Z=0.04", "w": 35270, "f": 1.23e-16}, {"a": "13.5 Gyr", "z": "Z=0.04", "w": 43020, "f": 7.79e-17}, {"a": "13.5 Gyr", "z": "Z=0.04", "w": 57950, "f": 4.66e-17}, {"a": "13.5 Gyr", "z": "Z=0.04", "w": 110000, "f": 1.94e-17}
    ]
  },
  "vconcat": [
    {
      "width": 496,
      "height": 440,
      "resolve": {"axis": {"x": "independent", "y": "independent"}},
      "layer": [
        {
          "data": {"name": "dots"},
          "mark": {"type": "rule", "color": "#808080", "strokeWidth": 1, "strokeDash": [1.5, 3]},
          "encoding": {"x": {"field": "w", "type": "quantitative", "scale": {"type": "log", "domain": [796, 110000], "nice": false}, "axis": null}}
        },
        {
          "data": {"name": "sed"},
          "mark": {"type": "line", "strokeWidth": 1.2, "clip": true},
          "encoding": {
            "x": {"field": "w", "type": "quantitative", "scale": {"type": "log", "domain": [796, 110000], "nice": false},
                  "axis": {"orient": "bottom", "values": [1000, 10000, 100000], "labels": false, "tickSize": -9, "title": null}},
            "y": {"field": "f", "type": "quantitative", "scale": {"type": "log", "domain": [4.8e-21, 1.045e-11], "nice": false},
                  "axis": {"orient": "left", "values": [1e-20, 1e-18, 1e-16, 1e-14, 1e-12], "tickSize": -9, "labelPadding": 23,
                           "labelExpr": "datum.value < 1e-19 ? '10\u207b\u00b2\u2070' : datum.value < 1e-17 ? '10\u207b\u00b9\u2078' : datum.value < 1e-15 ? '10\u207b\u00b9\u2076' : datum.value < 1e-13 ? '10\u207b\u00b9\u2074' : '10\u207b\u00b9\u00b2'",
                           "labelFont": "Liberation Serif", "labelFontSize": 16,
                           "title": "f\u03bd (erg cm\u207b\u00b2 s\u207b\u00b9 Hz\u207b\u00b9)", "titleFont": "Liberation Mono", "titleFontSize": 14, "titleFontWeight": "normal", "titlePadding": 0, "titleY": 202}},
            "color": {"field": "a", "type": "nominal", "legend": null,
                      "scale": {"domain": ["4 Myr", "12 Myr", "100 Myr", "500 Myr", "1 Gyr", "13.5 Gyr"], "range": ["#5c0a8e", "#1a1ae6", "#12eef0", "#1ee66a", "#9ee81c", "#f51414"]}},
            "strokeDash": {"field": "z", "type": "nominal", "legend": null,
                           "scale": {"domain": ["Z=0.0004", "Z=0.04"], "range": [[1, 0], [7, 3, 2, 3]]}}
          }
        },
        {
          "data": {"name": "ages"},
          "mark": {"type": "text", "align": "left", "baseline": "middle", "font": "Liberation Mono", "fontSize": 19},
          "encoding": {
            "x": {"field": "w", "type": "quantitative", "scale": {"type": "log", "domain": [796, 110000], "nice": false},
                  "axis": {"orient": "bottom", "values": [900, 2000, 3000, 4000, 5000, 6000, 7000, 8000, 9000, 20000, 30000, 40000, 50000, 60000, 70000, 80000, 90000], "labels": false, "tickSize": -5, "title": null}},
            "y": {"field": "f", "type": "quantitative", "scale": {"type": "log", "domain": [4.8e-21, 1.045e-11], "nice": false},
                  "axis": {"orient": "left", "values": [1e-19, 1e-17, 1e-15, 1e-13], "labels": false, "tickSize": -5, "title": null}},
            "color": {"field": "a", "type": "nominal", "legend": null},
            "text": {"field": "a"}
          }
        },
        {
          "data": {"name": "zleg"},
          "mark": {"type": "rule", "color": "black", "strokeWidth": 1.2},
          "encoding": {
            "x": {"field": "w1", "type": "quantitative", "scale": {"type": "log", "domain": [796, 110000], "nice": false},
                  "axis": {"orient": "top", "values": [1000, 10000, 100000], "labels": false, "tickSize": -9, "title": null}},
            "x2": {"field": "w2"},
            "y": {"field": "f", "type": "quantitative", "scale": {"type": "log", "domain": [4.8e-21, 1.045e-11], "nice": false},
                  "axis": {"orient": "right", "values": [1e-20, 1e-18, 1e-16, 1e-14, 1e-12], "labels": false, "tickSize": -9, "title": null}},
            "strokeDash": {"field": "z", "type": "nominal", "legend": null}
          }
        },
        {
          "data": {"name": "zleg"},
          "mark": {"type": "text", "align": "left", "baseline": "middle", "font": "Liberation Mono", "fontSize": 16, "color": "black"},
          "encoding": {
            "x": {"field": "wt", "type": "quantitative", "scale": {"type": "log", "domain": [796, 110000], "nice": false},
                  "axis": {"orient": "top", "values": [900, 2000, 3000, 4000, 5000, 6000, 7000, 8000, 9000, 20000, 30000, 40000, 50000, 60000, 70000, 80000, 90000], "labels": false, "tickSize": -5, "title": null}},
            "y": {"field": "f", "type": "quantitative", "scale": {"type": "log", "domain": [4.8e-21, 1.045e-11], "nice": false},
                  "axis": {"orient": "right", "values": [1e-19, 1e-17, 1e-15, 1e-13], "labels": false, "tickSize": -5, "title": null}},
            "text": {"field": "z"}
          }
        }
      ]
    },
    {
      "width": 496,
      "height": 139,
      "resolve": {"axis": {"x": "independent", "y": "independent"}},
      "layer": [
        {
          "data": {"name": "dots"},
          "mark": {"type": "rule", "color": "#808080", "strokeWidth": 1, "strokeDash": [1.5, 3]},
          "encoding": {"x": {"field": "w", "type": "quantitative", "scale": {"type": "log", "domain": [796, 110000], "nice": false}, "axis": null}}
        },
        {
          "data": {"name": "filt"},
          "mark": {"type": "line", "strokeWidth": 1.5, "clip": true},
          "encoding": {
            "x": {"field": "w", "type": "quantitative", "scale": {"type": "log", "domain": [796, 110000], "nice": false},
                  "axis": {"orient": "bottom", "values": [1000, 10000, 100000], "tickSize": -9, "labelPadding": 16.5,
                           "labelExpr": "datum.value < 5000 ? '10\u00b3' : datum.value < 50000 ? '10\u2074' : '10\u2075'",
                           "labelFont": "Liberation Serif", "labelFontSize": 15,
                           "title": "Wavelength (\u00c5)", "titleFont": "Liberation Mono", "titleFontSize": 15, "titleFontWeight": "normal", "titlePadding": 1}},
            "y": {"field": "t", "type": "quantitative", "scale": {"domain": [-0.01, 1.06], "nice": false, "zero": false},
                  "axis": {"orient": "left", "values": [0, 0.5, 1], "format": ".1f", "tickSize": -9, "labelPadding": 13,
                           "labelFont": "Liberation Sans", "labelFontSize": 15, "labelFontWeight": "bold",
                           "title": "T(\u03bb)", "titleFont": "Liberation Mono", "titleFontSize": 15, "titleFontWeight": "normal", "titlePadding": 24}},
            "color": {"field": "b", "type": "nominal", "legend": null,
                      "scale": {"domain": ["FUV", "NUV", "U", "B", "V", "R", "J", "H", "Ks", "3.6", "4.5", "5.8", "8.0"],
                                "range": ["#6a1a9a", "#2a3cf0", "#1e7ff0", "#14a0f5", "#10dcf0", "#20e6c4", "#18f018", "#6ae22a", "#a8e028", "#dde820", "#ffb414", "#ff6414", "#ff1e1e"]}}
          }
        },
        {
          "data": {"name": "fn"},
          "mark": {"type": "text", "align": "center", "baseline": "middle", "font": "Liberation Serif", "fontSize": 12, "fontWeight": "bold", "color": "black"},
          "encoding": {
            "x": {"field": "w", "type": "quantitative", "scale": {"type": "log", "domain": [796, 110000], "nice": false},
                  "axis": {"orient": "bottom", "values": [900, 2000, 3000, 4000, 5000, 6000, 7000, 8000, 9000, 20000, 30000, 40000, 50000, 60000, 70000, 80000, 90000], "tickSize": -5, "labelPadding": 4,
                           "labelExpr": "indexof([2,3,5,7], round(datum.value / (datum.value < 9999 ? 1000 : 10000))) >= 0 ? '' + round(datum.value / (datum.value < 9999 ? 1000 : 10000)) : ''",
                           "labelFont": "Liberation Sans", "labelFontSize": 11, "labelFontWeight": "bold", "title": null}},
            "y": {"field": "v", "type": "quantitative", "scale": {"domain": [-0.01, 1.06], "nice": false, "zero": false},
                  "axis": {"orient": "left", "values": [0.1, 0.2, 0.3, 0.4, 0.6, 0.7, 0.8, 0.9], "labels": false, "tickSize": -5, "title": null}},
            "text": {"field": "t"}
          }
        },
        {
          "data": {"name": "grp"},
          "mark": {"type": "text", "align": "center", "baseline": "middle", "font": "Liberation Serif", "fontSize": 14, "color": "black"},
          "encoding": {
            "x": {"field": "w", "type": "quantitative", "scale": {"type": "log", "domain": [796, 110000], "nice": false},
                  "axis": {"orient": "top", "values": [1000, 10000, 100000], "labels": false, "tickSize": -9, "title": null}},
            "y": {"field": "v", "type": "quantitative", "scale": {"domain": [-0.01, 1.06], "nice": false, "zero": false},
                  "axis": {"orient": "right", "values": [0, 0.5, 1], "labels": false, "tickSize": -9, "title": null}},
            "text": {"field": "t"}
          }
        },
        {
          "data": {"name": "sans"},
          "mark": {"type": "text", "align": "center", "baseline": "middle", "font": "Liberation Sans", "fontSize": 14, "color": "black"},
          "encoding": {
            "x": {"field": "w", "type": "quantitative", "scale": {"type": "log", "domain": [796, 110000], "nice": false},
                  "axis": {"orient": "top", "values": [900, 2000, 3000, 4000, 5000, 6000, 7000, 8000, 9000, 20000, 30000, 40000, 50000, 60000, 70000, 80000, 90000], "labels": false, "tickSize": -5, "title": null}},
            "y": {"field": "v", "type": "quantitative", "scale": {"domain": [-0.01, 1.06], "nice": false, "zero": false},
                  "axis": {"orient": "right", "values": [0.1, 0.2, 0.3, 0.4, 0.6, 0.7, 0.8, 0.9], "labels": false, "tickSize": -5, "title": null}},
            "text": {"field": "t"}
          }
        }
      ]
    }
  ]
}
